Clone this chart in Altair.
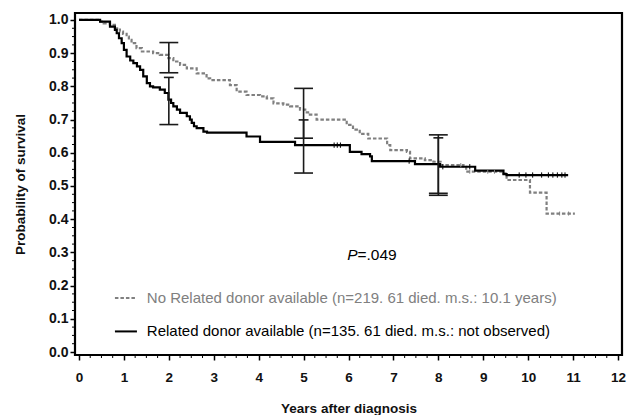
import altair as alt
import pandas as pd

# ---- data ----
rel_t = [0, 0.47, 0.69, 0.80, 0.84, 0.89, 0.95, 1.00, 1.06, 1.14, 1.21, 1.29, 1.36, 1.43,
         1.51, 1.58, 1.65, 1.80, 1.91, 1.99, 2.05, 2.10, 2.18, 2.25, 2.40, 2.47, 2.51,
         2.56, 2.62, 2.77, 2.85, 3.73, 4.03, 4.81, 6.03, 6.29, 6.48, 6.52, 7.48, 8.04,
         8.82, 9.45, 9.52, 10.89]
rel_s = [1.0, 0.995, 0.98, 0.97, 0.96, 0.945, 0.93, 0.91, 0.89, 0.878, 0.87, 0.86, 0.85,
         0.83, 0.81, 0.80, 0.797, 0.79, 0.78, 0.76, 0.75, 0.74, 0.73, 0.72, 0.71, 0.70,
         0.69, 0.68, 0.674, 0.664, 0.661, 0.649, 0.633, 0.623, 0.603, 0.596, 0.589, 0.575,
         0.566, 0.558, 0.546, 0.536, 0.533, 0.533]

norel_t = [0, 0.42, 0.55, 0.69, 0.80, 0.91, 0.98, 1.06, 1.11, 1.17, 1.28, 1.40, 1.65, 1.80,
           1.99, 2.10, 2.25, 2.40, 2.62, 2.84, 2.92, 3.36, 3.51, 3.73, 4.03, 4.18, 4.33,
           4.55, 4.70, 4.92, 5.07, 5.14, 5.29, 5.96, 6.10, 6.25, 6.44, 6.86, 6.93, 7.30,
           7.37, 7.70, 7.89, 8.05, 8.56, 8.62, 9.45, 9.52, 10.04, 10.41, 11.04]
norel_s = [1.0, 0.995, 0.99, 0.985, 0.975, 0.965, 0.958, 0.95, 0.94, 0.93, 0.915, 0.905,
           0.90, 0.895, 0.885, 0.875, 0.865, 0.854, 0.839, 0.824, 0.819, 0.804, 0.784,
           0.774, 0.77, 0.764, 0.749, 0.745, 0.74, 0.73, 0.722, 0.715, 0.70, 0.684, 0.670,
           0.657, 0.643, 0.623, 0.608, 0.603, 0.583, 0.578, 0.573, 0.563, 0.558, 0.543,
           0.538, 0.518, 0.48, 0.417, 0.417]

ci_t = [2, 5, 8]
rel_lo = [0.685, 0.539, 0.478]
rel_hi = [0.827, 0.699, 0.645]
norel_lo = [0.841, 0.644, 0.472]
norel_hi = [0.932, 0.794, 0.654]

rel_cens = [5.68, 5.75, 5.82, 7.35, 8.10, 8.70, 9.80, 9.95, 10.10, 10.30, 10.45, 10.55,
            10.65, 10.75, 10.82]
norel_cens = [8.50, 8.70, 9.10, 9.25, 10.70, 10.90]

x_ticks = list(range(0, 13))
y_ticks = [0.0, 0.1, 0.2, 0.3, 0.4, 0.5, 0.6, 0.7, 0.8, 0.9, 1.0]

legend_norel = "No Related donor available (n=219. 61 died. m.s.: 10.1 years)"
legend_rel = "Related donor available (n=135. 61 died. m.s.: not observed)"

# ---- tables ----
rel_df = pd.DataFrame({"t": rel_t, "s": rel_s})
norel_df = pd.DataFrame({"t": norel_t, "s": norel_s})


def step_at(ts, ss, x):
    v = ss[0]
    for a, b in zip(ts, ss):
        if a <= x:
            v = b
    return v


cens_rows = [{"t": c, "lo": step_at(rel_t, rel_s, c) - 0.008,
              "hi": step_at(rel_t, rel_s, c) + 0.008, "g": "rel"} for c in rel_cens]
cens_rows += [{"t": c, "lo": step_at(norel_t, norel_s, c) - 0.006,
               "hi": step_at(norel_t, norel_s, c) + 0.006, "g": "norel"} for c in norel_cens]
cens_df = pd.DataFrame(cens_rows)

bars = pd.DataFrame({"t": ci_t * 2, "lo": rel_lo + norel_lo, "hi": rel_hi + norel_hi})
WIDE = 0.21
SHORT = 0.11
caps = []
for t, lo, hi in zip(ci_t, rel_lo, rel_hi):
    caps.append({"y": lo, "xl": t - WIDE, "xr": t + WIDE})
    caps.append({"y": hi, "xl": t - SHORT, "xr": t + SHORT})
for t, lo, hi in zip(ci_t, norel_lo, norel_hi):
    caps.append({"y": lo, "xl": t - WIDE, "xr": t + WIDE})
    caps.append({"y": hi, "xl": t - WIDE, "xr": t + WIDE})
caps_df = pd.DataFrame(caps)

minor_x = pd.DataFrame({"v": [i * 0.25 for i in range(0, 49) if i % 4 != 0]})
minor_y = pd.DataFrame({"v": [i * 0.025 for i in range(0, 41) if i % 4 != 0]})

xs = alt.Scale(domain=[-0.089, 12.089], nice=False, zero=False)
ys = alt.Scale(domain=[-0.009, 1.021], nice=False, zero=False)

xaxis = alt.Axis(values=x_ticks, format="d", title="Years after diagnosis", grid=False,
                 domain=False, tickSize=5, tickWidth=1.5, tickColor="black",
                 labelFontSize=13.5, labelFontWeight="bold", labelColor="#111111",
                 labelFont="Liberation Sans", labelPadding=10, labelOverlap=False,
                 titleFont="Liberation Sans", titleFontSize=13.5, titleFontWeight="bold",
                 titleColor="#111111", titleY=53, titleBaseline="middle")
yaxis = alt.Axis(values=y_ticks, format=".1f", title="Probability of survival", grid=False,
                 domain=False, tickSize=5, tickWidth=1.5, tickColor="black",
                 labelFontSize=14, labelFontWeight="bold", labelColor="#111111",
                 labelFont="Liberation Sans", labelPadding=2, labelOverlap=False,
                 titleFont="Liberation Sans", titleFontSize=13.5, titleFontWeight="bold",
                 titleColor="#111111", titleX=-55, titleBaseline="middle")


def X(f):
    return alt.X(f, type="quantitative", scale=xs, axis=xaxis)


def Y(f):
    return alt.Y(f, type="quantitative", scale=ys, axis=yaxis)


GREY = "#808080"
DARK = "#1a1a1a"

norel_line = alt.Chart(norel_df).mark_line(
    interpolate="step-after", color=GREY, strokeWidth=2.2, strokeDash=[3.5, 2]
).encode(x=X("t"), y=Y("s"))

rel_line = alt.Chart(rel_df).mark_line(
    interpolate="step-after", color="black", strokeWidth=2.2
).encode(x=X("t"), y=Y("s"))

cens = alt.Chart(cens_df).mark_rule(strokeWidth=1).encode(
    x=X("t"), y=Y("lo"), y2="hi:Q",
    color=alt.Color("g:N", scale=alt.Scale(domain=["rel", "norel"], range=["black", GREY]),
                    legend=None))

vbars = alt.Chart(bars).mark_rule(color=DARK, strokeWidth=1.6).encode(
    x=X("t"), y=Y("lo"), y2="hi:Q")
capm = alt.Chart(caps_df).mark_rule(color=DARK, strokeWidth=1.6).encode(
    x=X("xl"), x2="xr:Q", y=Y("y"))

mx = alt.Chart(minor_x).mark_rule(color="black", strokeWidth=1).encode(
    x=X("v"), y=alt.value(342), y2=alt.value(345))
my = alt.Chart(minor_y).mark_rule(color="black", strokeWidth=1).encode(
    y=Y("v"), x=alt.value(-3), x2=alt.value(0))

leg_df = pd.DataFrame({"y": [0.163, 0.062], "label": [legend_norel, legend_rel],
                       "g": ["norel", "rel"], "x0": [0.80, 0.80], "x1": [1.29, 1.29],
                       "xt": [1.51, 1.51]})
leg_line_norel = alt.Chart(leg_df[leg_df.g == "norel"]).mark_rule(
    color=GREY, strokeWidth=2, strokeDash=[3.5, 2]).encode(
    x=X("x0"), x2="x1:Q", y=Y("y"))
leg_line_rel = alt.Chart(leg_df[leg_df.g == "rel"]).mark_rule(
    color="black", strokeWidth=2).encode(
    x=X("x0"), x2="x1:Q", y=Y("y"))
leg_text = alt.Chart(leg_df).mark_text(
    align="left", baseline="middle", font="Liberation Sans", fontSize=15).encode(
    x=X("xt"), y=Y("y"), text="label:N",
    color=alt.Color("g:N", scale=alt.Scale(domain=["rel", "norel"], range=["black", "#7a7a7a"]),
                    legend=None))

p_df = pd.DataFrame({"x": [5.97, 6.20], "y": [0.292, 0.292], "txt": ["P", "=.049"],
                     "it": ["italic", "normal"]})
p_italic = alt.Chart(p_df[p_df.it == "italic"]).mark_text(
    align="left", baseline="middle", font="Liberation Sans", fontSize=15.5,
    fontStyle="italic", color="black").encode(x=X("x"), y=Y("y"), text="txt:N")
p_rest = alt.Chart(p_df[p_df.it == "normal"]).mark_text(
    align="left", baseline="middle", font="Liberation Sans", fontSize=15.5,
    color="black").encode(x=X("x"), y=Y("y"), text="txt:N")

chart = alt.layer(
    norel_line, rel_line, cens, vbars, capm, mx, my,
    leg_line_norel, leg_line_rel, leg_text, p_italic, p_rest
).properties(
    width=547, height=342,
    autosize=alt.AutoSizeParams(type="none"),
    padding={"left": 75, "top": 13, "right": 9, "bottom": 60},
    background="white"
).configure_view(stroke="black", strokeWidth=2.2)

chart.save("out.html", embed_options={"renderer": "svg", "actions": False})
